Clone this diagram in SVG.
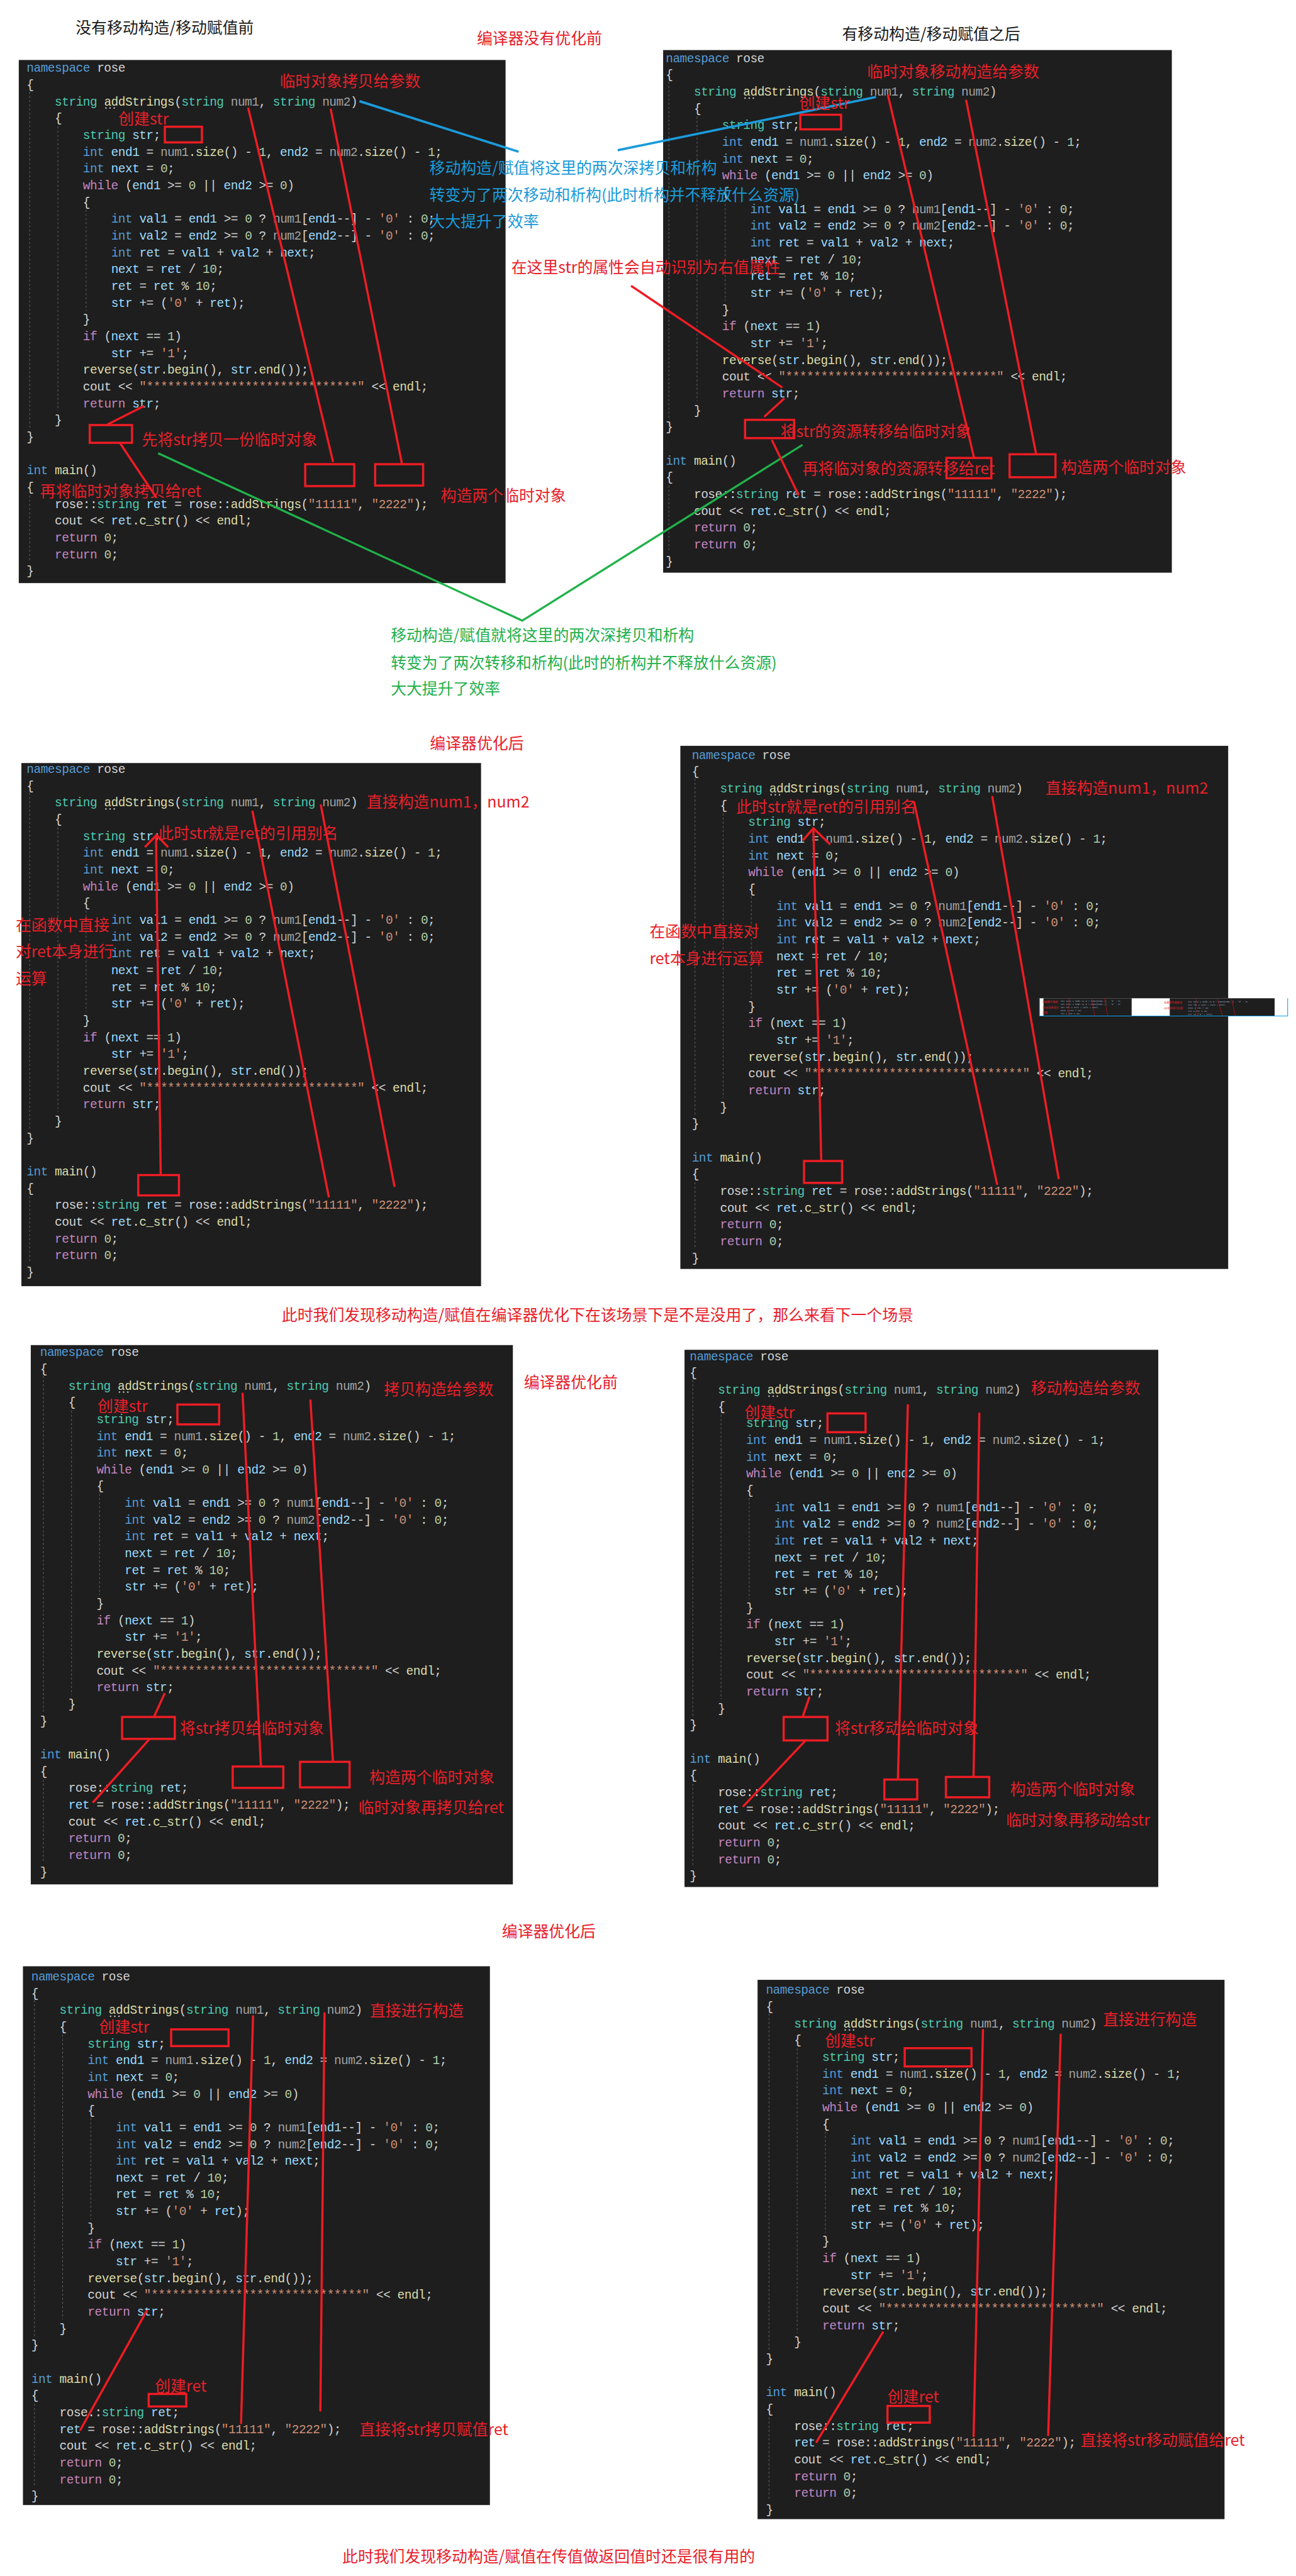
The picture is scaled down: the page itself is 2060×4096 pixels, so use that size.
<svg xmlns="http://www.w3.org/2000/svg" xmlns:xlink="http://www.w3.org/1999/xlink" width="2060" height="4096" viewBox="0 0 2060 4096">
<style>
.code{font-family:"Liberation Mono","DejaVu Sans Mono",monospace;font-size:23.5px;letter-spacing:-0.6px;fill:#d4d4d4}
.k{fill:#569cd6}.t{fill:#4ec9b0}.f{fill:#dcdcaa}.v{fill:#9cdcfe}.p{fill:#a3a3a3}.n{fill:#b5cea8}.s{fill:#ce9178}.c{fill:#c586c0}
.bg{fill:#1e1e1e}
.guide{stroke:#5a5a5a;stroke-width:1.4;stroke-dasharray:4 4;fill:none}
.note{font-family:"Noto Sans CJK SC","Noto Sans CJK JP",sans-serif;font-size:30px;fill:#e8202a}
.blue{fill:#1a9ad8}.green{fill:#22b04b}.black{fill:#1a1a1a}
.rl{stroke:#ee1c24;stroke-width:4.2;fill:none;stroke-linecap:round}
.box{stroke:#ee1c24;stroke-width:4.2;fill:none}
.bl{stroke:#1b9bdb;stroke-width:4.5;fill:none}
.gl{stroke:#21b24a;stroke-width:4;fill:none}
.tiny{font-family:"Liberation Mono",monospace;font-size:4.2px;fill:#9cb6d6}
.tinyr{font-family:"Noto Sans CJK SC",sans-serif;font-size:5px;fill:#e8202a}
</style>
<defs>
<g id="fn" class="code">
<text x="0" y="8"><tspan class="k">namespace</tspan> rose</text>
<text x="0" y="40.15">{</text>
<text x="54" y="72.3"><tspan class="t">string</tspan> <tspan class="f">addStrings</tspan>(<tspan class="t">string</tspan> <tspan class="p">num1</tspan>, <tspan class="t">string</tspan> <tspan class="p">num2</tspan>)</text>
<text x="54" y="104.45">{</text>
<text x="108" y="136.6"><tspan class="t">string</tspan> <tspan class="v">str</tspan>;</text>
<text x="108" y="168.75"><tspan class="k">int</tspan> <tspan class="v">end1</tspan> = <tspan class="p">num1</tspan>.<tspan class="f">size</tspan>() - <tspan class="n">1</tspan>, <tspan class="v">end2</tspan> = <tspan class="p">num2</tspan>.<tspan class="f">size</tspan>() - <tspan class="n">1</tspan>;</text>
<text x="108" y="200.9"><tspan class="k">int</tspan> <tspan class="v">next</tspan> = <tspan class="n">0</tspan>;</text>
<text x="108" y="233.05"><tspan class="c">while</tspan> (<tspan class="v">end1</tspan> &gt;= <tspan class="n">0</tspan> || <tspan class="v">end2</tspan> &gt;= <tspan class="n">0</tspan>)</text>
<text x="108" y="265.2">{</text>
<text x="162" y="297.35"><tspan class="k">int</tspan> <tspan class="v">val1</tspan> = <tspan class="v">end1</tspan> &gt;= <tspan class="n">0</tspan> ? <tspan class="p">num1</tspan>[<tspan class="v">end1</tspan>--] - <tspan class="s">'0'</tspan> : <tspan class="n">0</tspan>;</text>
<text x="162" y="329.5"><tspan class="k">int</tspan> <tspan class="v">val2</tspan> = <tspan class="v">end2</tspan> &gt;= <tspan class="n">0</tspan> ? <tspan class="p">num2</tspan>[<tspan class="v">end2</tspan>--] - <tspan class="s">'0'</tspan> : <tspan class="n">0</tspan>;</text>
<text x="162" y="361.65"><tspan class="k">int</tspan> <tspan class="v">ret</tspan> = <tspan class="v">val1</tspan> + <tspan class="v">val2</tspan> + <tspan class="v">next</tspan>;</text>
<text x="162" y="393.8"><tspan class="v">next</tspan> = <tspan class="v">ret</tspan> / <tspan class="n">10</tspan>;</text>
<text x="162" y="425.95"><tspan class="v">ret</tspan> = <tspan class="v">ret</tspan> % <tspan class="n">10</tspan>;</text>
<text x="162" y="458.1"><tspan class="v">str</tspan> += (<tspan class="s">'0'</tspan> + <tspan class="v">ret</tspan>);</text>
<text x="108" y="490.25">}</text>
<text x="108" y="522.4"><tspan class="c">if</tspan> (<tspan class="v">next</tspan> == <tspan class="n">1</tspan>)</text>
<text x="162" y="554.55"><tspan class="v">str</tspan> += <tspan class="s">'1'</tspan>;</text>
<text x="108" y="586.7"><tspan class="f">reverse</tspan>(<tspan class="v">str</tspan>.<tspan class="f">begin</tspan>(), <tspan class="v">str</tspan>.<tspan class="f">end</tspan>());</text>
<text x="108" y="618.85">cout &lt;&lt; <tspan class="s">"******************************"</tspan> &lt;&lt; <tspan class="f">endl</tspan>;</text>
<text x="108" y="651"><tspan class="c">return</tspan> <tspan class="v">str</tspan>;</text>
<text x="54" y="683.15">}</text>
<text x="0" y="715.3">}</text>
<text x="0" y="779.6"><tspan class="k">int</tspan> <tspan class="f">main</tspan>()</text>
<text x="0" y="811.75">{</text>
<path class="guide" d="M6 46V691M60 112.5V658M114 272V466"/>
<circle cx="152" cy="77" r="1.5" fill="#c0c0c0"/><circle cx="160" cy="77" r="1.5" fill="#c0c0c0"/><circle cx="168" cy="77" r="1.5" fill="#c0c0c0"/>
</g>
<g id="mainA" class="code">
<text x="54" y="843.9">rose::<tspan class="t">string</tspan> <tspan class="v">ret</tspan> = rose::<tspan class="f">addStrings</tspan>(<tspan class="s">"11111"</tspan>, <tspan class="s">"2222"</tspan>);</text>
<text x="54" y="876.05">cout &lt;&lt; <tspan class="v">ret</tspan>.<tspan class="f">c_str</tspan>() &lt;&lt; <tspan class="f">endl</tspan>;</text>
<text x="54" y="908.2"><tspan class="c">return</tspan> <tspan class="n">0</tspan>;</text>
<text x="54" y="940.35"><tspan class="c">return</tspan> <tspan class="n">0</tspan>;</text>
<text x="0" y="972.5">}</text>
<path class="guide" d="M6 820V948"/>
</g>
<g id="mainB" class="code">
<text x="54" y="843.9">rose::<tspan class="t">string</tspan> <tspan class="v">ret</tspan>;</text>
<text x="54" y="876.05"><tspan class="v">ret</tspan> = rose::<tspan class="f">addStrings</tspan>(<tspan class="s">"11111"</tspan>, <tspan class="s">"2222"</tspan>);</text>
<text x="54" y="908.2">cout &lt;&lt; <tspan class="v">ret</tspan>.<tspan class="f">c_str</tspan>() &lt;&lt; <tspan class="f">endl</tspan>;</text>
<text x="54" y="940.35"><tspan class="c">return</tspan> <tspan class="n">0</tspan>;</text>
<text x="54" y="972.5"><tspan class="c">return</tspan> <tspan class="n">0</tspan>;</text>
<text x="0" y="1004.65">}</text>
<path class="guide" d="M6 820V980"/>
</g>
</defs>
<rect width="2060" height="4096" fill="#ffffff"/>
<g transform="scale(0.82931)">
<g id="panel1"><rect class="bg" x="36" y="115" width="933" height="1003"/><use href="#fn" x="51" y="130"/><use href="#mainA" x="51" y="130"/></g>
<g id="panel2"><rect class="bg" x="1271" y="96" width="975" height="1002"/><use href="#fn" x="1276" y="111"/><use href="#mainA" x="1276" y="111"/></g>
<g id="panel3"><rect class="bg" x="41" y="1463" width="881" height="1003"/><use href="#fn" x="51" y="1474"/><use href="#mainA" x="51" y="1474"/></g>
<g id="panel4"><rect class="bg" x="1304" y="1430" width="1050" height="1003"/><use href="#fn" x="1326" y="1447"/><use href="#mainA" x="1326" y="1447"/></g>
<g id="panel5"><rect class="bg" x="59" y="2579" width="924" height="1034"/><use href="#fn" x="77" y="2592"/><use href="#mainB" x="77" y="2592"/></g>
<g id="panel6"><rect class="bg" x="1312" y="2588" width="908" height="1030"/><use href="#fn" x="1322" y="2600"/><use href="#mainB" x="1322" y="2600"/></g>
<g id="panel7"><rect class="bg" x="44" y="3770" width="895" height="1033"/><use href="#fn" x="60" y="3789"/><use href="#mainB" x="60" y="3789"/></g>
<g id="panel8"><rect class="bg" x="1452" y="3796" width="895" height="1034"/><use href="#fn" x="1468" y="3815"/><use href="#mainB" x="1468" y="3815"/></g>

<g id="thumb">
<rect x="1992" y="1914" width="476" height="34" fill="#ffffff"/>
<rect x="2000" y="1914" width="169" height="34" fill="#1e1e1e"/>
<rect x="2242" y="1914" width="201" height="34" fill="#1e1e1e"/>
<text class="tinyr" x="1998" y="1923">在函数中直接</text>
<text class="tinyr" x="1998" y="1934">对ret本身进行</text>
<text class="tinyr" x="1998" y="1944">运算</text>
<text class="tiny" x="2033" y="1921">int val1 = end1 &gt;= 0 ? num1[end1--] - '0' : 0;</text>
<text class="tiny" x="2033" y="1927">int val2 = end2 &gt;= 0 ? num2[end2--] - '0' : 0;</text>
<text class="tiny" x="2033" y="1933">int ret = val1 + val2 + next;</text>
<text class="tiny" x="2033" y="1939">next = ret / 10;</text>
<text class="tiny" x="2033" y="1945">ret = ret % 10;</text>
<text class="tinyr" x="2231" y="1925">在函数中直接对</text>
<text class="tinyr" x="2231" y="1935">ret本身进行运算</text>
<text class="tiny" x="2277" y="1922">int val2 = end2 &gt;= 0 ? num2[end2--] - '0' : 0;</text>
<text class="tiny" x="2277" y="1928">int ret = val1 + val2 + next;</text>
<text class="tiny" x="2277" y="1934">next = ret / 10;</text>
<text class="tiny" x="2277" y="1940">ret = ret % 10;</text>
<text class="tiny" x="2277" y="1946">str += ('0' + ret);</text>
<path d="M2049 1914V1948M2092 1914L2098 1948M2117 1914L2123 1948M2292 1914V1948M2333 1914L2343 1948M2360 1914L2368 1948" stroke="#d4141c" stroke-width="0.8" fill="none"/>
<path d="M1992.5 1914V1948H2468V1914" stroke="#10a0e8" stroke-width="1.3" fill="none"/>
</g>

<g id="connectors">
<line class="rl" x1="476" y1="208" x2="638" y2="884"/>
<line class="rl" x1="634" y1="210" x2="770" y2="887"/>
<line class="rl" x1="206" y1="814" x2="275" y2="779"/>
<line class="rl" x1="231" y1="851" x2="299" y2="953"/>
<line class="bl" x1="689" y1="194" x2="994" y2="291"/>
<line class="bl" x1="1184" y1="288" x2="1679" y2="186"/>
<line class="rl" x1="1211" y1="549" x2="1498" y2="742"/>
<polyline class="gl" points="303,869 1001,1190 1538,853"/>
<line class="rl" x1="1702" y1="183" x2="1867" y2="878"/>
<line class="rl" x1="1852" y1="193" x2="1986" y2="871"/>
<line class="rl" x1="1466" y1="798" x2="1502" y2="765"/>
<line class="rl" x1="1480" y1="845" x2="1530" y2="948"/>
<line class="rl" x1="308" y1="2251" x2="299" y2="1603"/>
<polyline class="rl" points="279,1623 300,1601 321,1623"/>
<line class="rl" x1="484" y1="1556" x2="630" y2="2294"/>
<line class="rl" x1="615" y1="1544" x2="756" y2="2274"/>
<line class="rl" x1="1574" y1="2224" x2="1559" y2="1590"/>
<polyline class="rl" points="1540,1610 1559,1588 1590,1618"/>
<line class="rl" x1="1752" y1="1538" x2="1911" y2="2270"/>
<line class="rl" x1="1902" y1="1528" x2="2029" y2="2259"/>
<line class="rl" x1="465" y1="2672" x2="500" y2="3385"/>
<line class="rl" x1="595" y1="2685" x2="638" y2="3376"/>
<line class="rl" x1="296" y1="3290" x2="315" y2="3248"/>
<line class="rl" x1="285" y1="3336" x2="179" y2="3455"/>
<line class="rl" x1="1740" y1="2694" x2="1721" y2="3410"/>
<line class="rl" x1="1877" y1="2710" x2="1866" y2="3405"/>
<line class="rl" x1="1539" y1="3290" x2="1551" y2="3255"/>
<line class="rl" x1="1544" y1="3337" x2="1425" y2="3463"/>
<line class="rl" x1="485" y1="3866" x2="462" y2="4646"/>
<line class="rl" x1="622" y1="3860" x2="614" y2="4622"/>
<line class="rl" x1="281" y1="4431" x2="154" y2="4659"/>
<line class="rl" x1="1884" y1="3892" x2="1866" y2="4671"/>
<line class="rl" x1="2033" y1="3901" x2="2009" y2="4669"/>
<line class="rl" x1="1692" y1="4472" x2="1565" y2="4682"/>
</g>

<g id="headings">
<text class="note black" x="145" y="64">没有移动构造/移动赋值前</text>
<text class="note black" x="1614" y="76">有移动构造/移动赋值之后</text>
<text class="note" x="914" y="84">编译器没有优化前</text>
<text class="note" x="824" y="1436">编译器优化后</text>
<text class="note" x="540" y="2532">此时我们发现移动构造/赋值在编译器优化下在该场景下是不是没用了，那么来看下一个场景</text>
<text class="note" x="1004" y="2661">编译器优化前</text>
<text class="note" x="962" y="3714">编译器优化后</text>
<text class="note" x="656" y="4913">此时我们发现移动构造/赋值在传值做返回值时还是很有用的</text>
</g>

<g id="notes-blue-green">
<text class="note blue" x="823" y="333">移动构造/赋值将这里的两次深拷贝和析构</text>
<text class="note blue" x="823" y="385">转变为了两次移动和析构(此时析构并不释放什么资源)</text>
<text class="note blue" x="823" y="435">大大提升了效率</text>
<text class="note" x="980" y="523">在这里str的属性会自动识别为右值属性</text>
<text class="note green" x="749" y="1229">移动构造/赋值就将这里的两次深拷贝和析构</text>
<text class="note green" x="749" y="1282">转变为了两次转移和析构(此时的析构并不释放什么资源)</text>
<text class="note green" x="749" y="1331">大大提升了效率</text>
</g>

<g id="notes1">
<text class="note" x="536" y="166">临时对象拷贝给参数</text>
<text class="note" x="227" y="239">创建str</text>
<rect class="box" x="316" y="243" width="71" height="30"/>
<rect class="box" x="172" y="815" width="81" height="34"/>
<text class="note" x="272" y="854">先将str拷贝一份临时对象</text>
<text class="note" x="77" y="952">再将临时对象拷贝给ret</text>
<rect class="box" x="585" y="890" width="94" height="42"/>
<rect class="box" x="719" y="890" width="92" height="41"/>
<text class="note" x="845" y="961">构造两个临时对象</text>
</g>

<g id="notes2">
<text class="note" x="1662" y="148">临时对象移动构造给参数</text>
<text class="note" x="1532" y="209">创建str</text>
<rect class="box" x="1534" y="220" width="78" height="28"/>
<rect class="box" x="1814" y="878" width="86" height="39"/>
<rect class="box" x="1935" y="871" width="88" height="44"/>
<text class="note" x="1538" y="909">再将临对象的资源转移给ret</text>
<text class="note" x="2034" y="907">构造两个临时对象</text>
<rect class="box" x="1428" y="805" width="94" height="35"/>
<text class="note" x="1496" y="838">将str的资源转移给临时对象</text>
</g>

<g id="notes3">
<text class="note" x="703" y="1548">直接构造num1，num2</text>
<text class="note" x="303" y="1609">此时str就是ret的引用别名</text>
<rect class="box" x="265" y="2253" width="78" height="39"/>
<text class="note" x="30" y="1785">在函数中直接</text>
<text class="note" x="30" y="1835">对ret本身进行</text>
<text class="note" x="30" y="1887">运算</text>
</g>

<g id="notes4">
<text class="note" x="2004" y="1522">直接构造num1，num2</text>
<text class="note" x="1411" y="1558">此时str就是ret的引用别名</text>
<rect class="box" x="1541" y="2226" width="73" height="42"/>
<text class="note" x="1245" y="1797">在函数中直接对</text>
<text class="note" x="1245" y="1849">ret本身进行运算</text>
</g>

<g id="notes5">
<text class="note" x="736" y="2674">拷贝构造给参数</text>
<text class="note" x="187" y="2707">创建str</text>
<rect class="box" x="340" y="2693" width="80" height="38"/>
<rect class="box" x="446" y="3387" width="97" height="41"/>
<rect class="box" x="575" y="3378" width="95" height="49"/>
<text class="note" x="708" y="3418">构造两个临时对象</text>
<text class="note" x="687" y="3476">临时对象再拷贝给ret</text>
<rect class="box" x="234" y="3292" width="101" height="42"/>
<text class="note" x="345" y="3324">将str拷贝给临时对象</text>
</g>

<g id="notes6">
<text class="note" x="1976" y="2672">移动构造给参数</text>
<text class="note" x="1427" y="2719">创建str</text>
<rect class="box" x="1586" y="2710" width="73" height="36"/>
<rect class="box" x="1695" y="3412" width="63" height="38"/>
<rect class="box" x="1813" y="3407" width="83" height="39"/>
<text class="note" x="1936" y="3442">构造两个临时对象</text>
<text class="note" x="1928" y="3501">临时对象再移动给str</text>
<rect class="box" x="1502" y="3292" width="84" height="45"/>
<text class="note" x="1600" y="3324">将str移动给临时对象</text>
</g>

<g id="notes7">
<text class="note" x="709" y="3866">直接进行构造</text>
<text class="note" x="190" y="3897">创建str</text>
<rect class="box" x="328" y="3891" width="110" height="32"/>
<text class="note" x="297" y="4586">创建ret</text>
<rect class="box" x="285" y="4590" width="72" height="24"/>
<text class="note" x="689" y="4669">直接将str拷贝赋值ret</text>
</g>

<g id="notes8">
<text class="note" x="2114" y="3883">直接进行构造</text>
<text class="note" x="1581" y="3924">创建str</text>
<rect class="box" x="1734" y="3927" width="128" height="35"/>
<text class="note" x="1701" y="4606">创建ret</text>
<rect class="box" x="1701" y="4613" width="81" height="32"/>
<text class="note" x="2071" y="4690">直接将str移动赋值给ret</text>
</g>
</g>
</svg>
